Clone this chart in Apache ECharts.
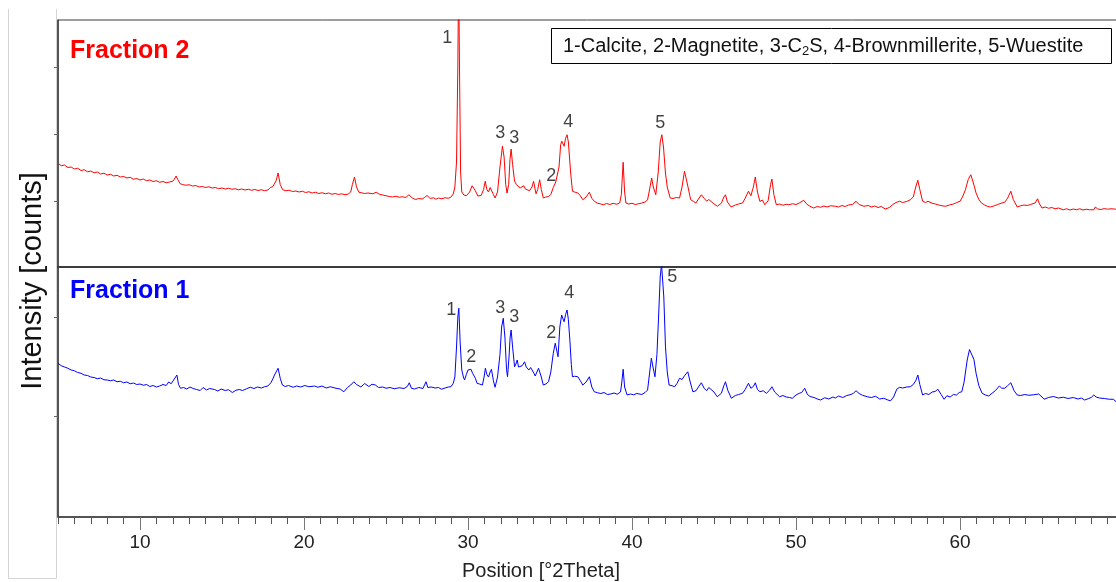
<!DOCTYPE html>
<html>
<head>
<meta charset="utf-8">
<title>XRD – Fraction 1 / Fraction 2</title>
<script src="https://cdn.jsdelivr.net/npm/echarts@6/dist/echarts.min.js"></script>
<style>
  html, body { margin: 0; padding: 0; background: #fff; }
  #chart { width: 1116px; height: 582px; }
</style>
</head>
<body>
<div id="chart"></div>
<script>
// x range (°2Theta) and labelled ticks
const thetaMin = 5
const thetaMax = 70
const majorTicks = [10, 20, 30, 40, 50, 60]

// Fraction 2 (red, upper panel): [2theta, counts]
const fraction2 = [
  [5.0, 415], [5.2, 405], [5.4, 408], [5.6, 398], [5.8, 400], [6.0, 392], [6.2, 395], [6.4, 386], [6.6, 389], [6.8, 381],
  [7.0, 384], [7.2, 377], [7.4, 380], [7.6, 372], [7.8, 375], [8.0, 368], [8.2, 371], [8.4, 364], [8.6, 367], [8.8, 360],
  [9.0, 362], [9.2, 356], [9.4, 359], [9.6, 351], [9.8, 354], [10.0, 348], [10.2, 352], [10.4, 345], [10.6, 348], [10.8, 342],
  [11.0, 345], [11.2, 339], [11.4, 342], [11.6, 337], [11.8, 340], [12.0, 343], [12.1, 352], [12.2, 364], [12.3, 350], [12.45, 333],
  [12.6, 330], [12.8, 327], [13.0, 329], [13.2, 324], [13.4, 326], [13.6, 320], [13.8, 322], [14.0, 318], [14.2, 321], [14.4, 316],
  [14.6, 318], [14.8, 313], [15.0, 316], [15.2, 312], [15.4, 315], [15.6, 311], [15.8, 313], [16.0, 309], [16.2, 312], [16.4, 308],
  [16.6, 311], [16.8, 307], [17.0, 310], [17.2, 306], [17.4, 309], [17.6, 305], [17.8, 308], [17.95, 318], [18.1, 322], [18.3, 345],
  [18.42, 376], [18.55, 330], [18.7, 309], [18.9, 305], [19.1, 307], [19.3, 302], [19.5, 304], [19.7, 300], [19.9, 303], [20.1, 298],
  [20.3, 301], [20.5, 296], [20.7, 299], [20.9, 294], [21.1, 297], [21.3, 293], [21.5, 296], [21.7, 291], [21.9, 294], [22.1, 290],
  [22.3, 293], [22.5, 289], [22.7, 292], [22.85, 300], [22.95, 330], [23.08, 360], [23.2, 320], [23.35, 299], [23.5, 297], [23.7, 294],
  [23.9, 296], [24.0, 300], [24.2, 293], [24.4, 299], [24.6, 291], [24.8, 288], [25.0, 285], [25.2, 282], [25.4, 280], [25.6, 283],
  [25.8, 279], [26.0, 281], [26.2, 278], [26.4, 289], [26.6, 276], [26.8, 270], [27.0, 274], [27.2, 272], [27.35, 278], [27.5, 286],
  [27.7, 274], [27.9, 277], [28.05, 271], [28.2, 276], [28.4, 273], [28.6, 277], [28.8, 275], [28.95, 279], [29.1, 292], [29.2, 320],
  [29.3, 420], [29.38, 800], [29.43, 1200], [29.48, 800], [29.55, 380], [29.62, 300], [29.75, 288], [29.9, 285], [30.1, 300], [30.25, 325],
  [30.34, 333], [30.45, 305], [30.6, 284], [30.8, 286], [30.95, 310], [31.05, 343], [31.15, 310], [31.25, 300], [31.35, 318], [31.43, 323],
  [31.55, 290], [31.65, 276], [31.8, 300], [31.95, 400], [32.1, 483], [32.2, 440], [32.3, 330], [32.38, 296], [32.48, 330], [32.56, 430],
  [32.63, 472], [32.72, 410], [32.84, 343], [32.95, 330], [33.06, 329], [33.18, 316], [33.3, 320], [33.4, 325], [33.5, 312], [33.6, 318],
  [33.75, 305], [33.9, 320], [34.0, 343], [34.08, 315], [34.15, 293], [34.25, 310], [34.37, 349], [34.47, 310], [34.59, 276], [34.75, 280],
  [34.9, 282], [35.05, 290], [35.2, 318], [35.35, 340], [35.45, 336], [35.55, 400], [35.65, 490], [35.72, 503], [35.86, 483], [35.95, 515],
  [36.04, 529], [36.12, 500], [36.26, 376], [36.37, 303], [36.5, 300], [36.7, 296], [36.85, 285], [37.0, 269], [37.2, 280], [37.4, 299],
  [37.55, 275], [37.7, 263], [37.9, 255], [38.1, 252], [38.25, 249], [38.45, 254], [38.65, 250], [38.85, 255], [39.05, 251], [39.25, 256],
  [39.35, 290], [39.46, 419], [39.55, 300], [39.63, 256], [39.8, 252], [40.0, 255], [40.2, 250], [40.4, 253], [40.6, 256], [40.8, 260],
  [40.95, 269], [41.1, 320], [41.2, 356], [41.3, 320], [41.45, 289], [41.6, 380], [41.72, 500], [41.82, 529], [41.92, 480], [42.04, 376],
  [42.15, 320], [42.33, 276], [42.5, 274], [42.7, 278], [42.9, 276], [43.05, 320], [43.2, 383], [43.35, 340], [43.58, 269], [43.75, 262],
  [43.9, 256], [44.05, 272], [44.23, 289], [44.4, 275], [44.55, 263], [44.68, 270], [44.8, 272], [44.95, 255], [45.2, 243], [45.45, 255],
  [45.6, 280], [45.7, 289], [45.82, 260], [46.04, 240], [46.3, 248], [46.5, 252], [46.74, 256], [46.9, 275], [47.1, 303], [47.25, 285],
  [47.4, 320], [47.52, 360], [47.65, 300], [47.8, 262], [47.95, 268], [48.1, 249], [48.3, 265], [48.45, 330], [48.53, 352], [48.65, 290],
  [48.8, 249], [49.0, 252], [49.2, 247], [49.4, 251], [49.56, 249], [49.8, 253], [50.0, 250], [50.2, 256], [50.47, 267], [50.65, 252],
  [50.85, 243], [51.08, 236], [51.3, 242], [51.5, 239], [51.7, 244], [51.9, 240], [52.1, 245], [52.4, 243], [52.6, 240], [52.8, 246],
  [53.0, 242], [53.2, 248], [53.45, 250], [53.66, 263], [53.85, 250], [54.14, 243], [54.4, 246], [54.6, 240], [54.8, 244], [55.0, 238],
  [55.2, 242], [55.45, 232], [55.7, 238], [55.9, 250], [56.1, 258], [56.32, 263], [56.5, 258], [56.75, 262], [56.97, 269], [57.15, 280],
  [57.3, 320], [57.43, 347], [57.55, 310], [57.72, 263], [57.9, 258], [58.05, 263], [58.3, 255], [58.5, 252], [58.7, 248], [58.9, 245],
  [59.13, 243], [59.35, 248], [59.6, 252], [59.8, 258], [60.0, 263], [60.15, 280], [60.33, 309], [60.5, 350], [60.66, 369], [60.8, 340],
  [60.98, 296], [61.15, 270], [61.31, 256], [61.5, 248], [61.7, 242], [61.86, 240], [62.1, 245], [62.3, 250], [62.5, 255], [62.73, 259],
  [62.9, 275], [63.1, 303], [63.25, 270], [63.49, 240], [63.7, 245], [63.9, 248], [64.1, 246], [64.3, 250], [64.58, 256], [64.73, 273],
  [64.85, 252], [65.0, 236], [65.2, 240], [65.4, 235], [65.6, 238], [65.8, 233], [66.0, 236], [66.3, 229], [66.5, 233], [66.7, 228],
  [66.9, 232], [67.1, 229], [67.3, 233], [67.5, 228], [67.7, 231], [67.9, 229], [68.16, 229], [68.25, 240], [68.4, 232], [68.6, 230],
  [68.8, 234], [69.0, 231], [69.2, 233], [69.4, 232], [69.6, 230], [69.8, 231], [70.0, 229]
]

// Fraction 1 (blue, lower panel): [2theta, counts]
const fraction1 = [
  [5.0, 615], [5.2, 605], [5.4, 600], [5.6, 595], [5.8, 588], [6.0, 585], [6.2, 578], [6.4, 575], [6.6, 568], [6.8, 566],
  [7.0, 560], [7.2, 558], [7.4, 553], [7.6, 556], [7.8, 549], [8.0, 548], [8.2, 545], [8.4, 548], [8.6, 541], [8.8, 543],
  [9.0, 537], [9.2, 540], [9.4, 533], [9.6, 536], [9.8, 530], [10.0, 532], [10.2, 527], [10.4, 530], [10.6, 522], [10.8, 526],
  [11.0, 520], [11.2, 524], [11.4, 530], [11.6, 526], [11.75, 540], [11.9, 533], [12.05, 548], [12.15, 556], [12.25, 568], [12.35, 530],
  [12.47, 515], [12.65, 518], [12.85, 512], [13.05, 520], [13.24, 514], [13.45, 510], [13.67, 506], [13.85, 518], [14.05, 508], [14.25, 514],
  [14.54, 510], [14.75, 504], [14.95, 512], [15.2, 506], [15.4, 509], [15.63, 498], [15.85, 507], [16.05, 510], [16.25, 506], [16.5, 513],
  [16.72, 519], [16.95, 514], [17.15, 520], [17.4, 516], [17.59, 521], [17.8, 524], [17.98, 537], [18.1, 552], [18.2, 568], [18.32, 560],
  [18.42, 595], [18.55, 555], [18.68, 528], [18.85, 522], [19.05, 526], [19.34, 519], [19.55, 524], [19.8, 520], [20.05, 526], [20.3, 521],
  [20.64, 524], [20.85, 519], [21.1, 524], [21.35, 516], [21.6, 521], [21.95, 515], [22.2, 512], [22.43, 501], [22.65, 518], [22.85, 528],
  [23.04, 541], [23.2, 530], [23.47, 520], [23.7, 534], [23.95, 522], [24.15, 531], [24.35, 528], [24.55, 518], [24.8, 520], [25.0, 515],
  [25.25, 518], [25.5, 513], [25.8, 517], [26.1, 514], [26.3, 522], [26.42, 537], [26.55, 515], [26.74, 512], [27.0, 518], [27.25, 514],
  [27.44, 541], [27.55, 518], [27.75, 520], [28.0, 516], [28.2, 518], [28.38, 511], [28.6, 516], [28.8, 520], [28.96, 521], [29.1, 535],
  [29.2, 560], [29.3, 680], [29.38, 800], [29.44, 835], [29.52, 700], [29.62, 588], [29.72, 560], [29.79, 548], [29.9, 570], [30.0, 588],
  [30.1, 582], [30.18, 591], [30.28, 575], [30.36, 581], [30.45, 555], [30.55, 535], [30.7, 532], [30.88, 528], [30.98, 560], [31.06, 595],
  [31.15, 570], [31.25, 560], [31.35, 580], [31.43, 591], [31.55, 545], [31.65, 519], [31.8, 560], [31.95, 650], [32.05, 760], [32.15, 795],
  [32.25, 720], [32.35, 590], [32.41, 561], [32.5, 640], [32.57, 720], [32.63, 748], [32.72, 680], [32.84, 601], [32.92, 612], [33.0, 628],
  [33.08, 600], [33.17, 595], [33.3, 605], [33.45, 621], [33.55, 600], [33.71, 588], [33.82, 598], [33.93, 593], [34.02, 575], [34.1, 564],
  [34.2, 580], [34.3, 595], [34.37, 601], [34.47, 560], [34.59, 528], [34.75, 532], [34.91, 541], [35.05, 580], [35.2, 655], [35.32, 695],
  [35.42, 688], [35.49, 641], [35.6, 760], [35.71, 808], [35.86, 781], [35.95, 810], [36.04, 828], [36.12, 790], [36.21, 708], [36.3, 610],
  [36.37, 561], [36.5, 563], [36.7, 561], [36.85, 545], [37.0, 528], [37.2, 540], [37.4, 561], [37.55, 520], [37.7, 501], [37.9, 497],
  [38.1, 494], [38.3, 498], [38.5, 490], [38.7, 492], [38.9, 496], [39.1, 491], [39.3, 500], [39.38, 540], [39.46, 591], [39.55, 520],
  [39.7, 488], [39.9, 492], [40.1, 489], [40.3, 494], [40.6, 490], [40.8, 498], [40.95, 508], [41.08, 580], [41.18, 635], [41.28, 600],
  [41.4, 561], [41.52, 650], [41.62, 800], [41.72, 960], [41.8, 1010], [41.86, 1010], [41.94, 880], [42.04, 681], [42.15, 580], [42.26, 528],
  [42.45, 525], [42.6, 521], [42.75, 535], [42.9, 555], [43.05, 550], [43.2, 565], [43.4, 581], [43.55, 540], [43.71, 501], [43.9, 505],
  [44.05, 520], [44.23, 537], [44.4, 515], [44.55, 505], [44.68, 518], [44.8, 524], [45.0, 500], [45.2, 481], [45.45, 495], [45.6, 525],
  [45.7, 541], [45.85, 505], [46.06, 475], [46.3, 486], [46.5, 490], [46.74, 495], [46.9, 510], [47.1, 535], [47.25, 515], [47.4, 522],
  [47.52, 537], [47.65, 510], [47.8, 501], [48.0, 505], [48.2, 495], [48.4, 508], [48.53, 521], [48.7, 500], [49.0, 481], [49.2, 486],
  [49.4, 480], [49.6, 478], [49.78, 475], [50.0, 488], [50.2, 495], [50.35, 498], [50.53, 515], [50.7, 490], [50.86, 482], [51.1, 478],
  [51.3, 472], [51.5, 468], [51.75, 477], [52.0, 472], [52.25, 480], [52.4, 476], [52.6, 484], [52.85, 478], [53.1, 486], [53.35, 490],
  [53.5, 495], [53.66, 505], [53.85, 494], [54.05, 487], [54.35, 481], [54.6, 478], [54.85, 483], [55.1, 472], [55.35, 475], [55.6, 468],
  [55.77, 465], [55.95, 480], [56.15, 512], [56.32, 519], [56.5, 516], [56.75, 520], [56.97, 521], [57.15, 530], [57.3, 545], [57.43, 568],
  [57.55, 530], [57.72, 488], [57.9, 494], [58.1, 490], [58.3, 500], [58.48, 502], [58.65, 511], [58.85, 490], [59.03, 471], [59.2, 485],
  [59.4, 480], [59.6, 490], [59.79, 488], [59.95, 498], [60.11, 501], [60.25, 540], [60.44, 628], [60.58, 670], [60.7, 675], [60.85, 630],
  [60.98, 575], [61.15, 525], [61.35, 495], [61.55, 488], [61.75, 484], [61.95, 495], [62.15, 505], [62.4, 524], [62.55, 515], [62.73, 515],
  [62.9, 525], [63.1, 537], [63.3, 505], [63.49, 488], [63.7, 486], [63.95, 490], [64.2, 487], [64.5, 489], [64.8, 492], [65.0, 480],
  [65.13, 471], [65.4, 478], [65.7, 482], [66.0, 476], [66.3, 479], [66.6, 474], [66.9, 478], [67.2, 472], [67.4, 476], [67.6, 468],
  [67.85, 474], [68.0, 478], [68.16, 488], [68.3, 480], [68.5, 476], [68.8, 474], [69.1, 471], [69.35, 471], [69.52, 461], [69.8, 468],
  [70.0, 465]
]

// phase labels: [2theta, counts, phase number]
const peaks2 = [[28.73, 916, '1'], [31.97, 536, '3'], [32.82, 516, '3'], [35.08, 364, '2'], [36.12, 580, '4'], [41.73, 576, '5']]
const peaks1 = [[28.98, 828, '1'], [30.2, 640, '2'], [31.97, 836, '3'], [32.82, 800, '3'], [35.08, 736, '2'], [36.18, 896, '4'], [42.46, 960, '5']]

const yMax2 = 988
const yMax1 = 1000
const yTicks2 = [264, 532, 800]
const yTicks1 = [404, 800]

const font = '"Liberation Sans", Arial, sans-serif'
const axisColor = '#3c3c3c'

const chart = echarts.init(document.getElementById('chart'), null, { renderer: 'canvas' })

function labelSeries (data, xi, yi) {
  return {
    type: 'scatter',
    xAxisIndex: xi,
    yAxisIndex: yi,
    data: data,
    symbolSize: 1,
    itemStyle: { color: 'rgba(0,0,0,0)' },
    silent: true,
    label: {
      show: true,
      position: 'inside',
      formatter: p => p.data[2],
      color: '#111',
      fontSize: 18,
      fontFamily: font
    },
    z: 5
  }
}

// plot runs a little past the right edge of the page (x = 70 is off-canvas)
const plotWidth = 1066

const option = {
  animation: false,
  backgroundColor: '#fff',
  grid: [
    { left: 58, top: 20, height: 247, width: plotWidth, outerBoundsMode: 'none', show: true, borderColor: axisColor, borderWidth: 1 },
    { left: 58, top: 267, height: 250, width: plotWidth, outerBoundsMode: 'none', show: true, borderColor: axisColor, borderWidth: 1 }
  ],
  xAxis: [
    {
      gridIndex: 0, type: 'value', min: thetaMin, max: thetaMax, position: 'top',
      axisLine: { show: true, lineStyle: { color: axisColor, width: 2 } },
      axisTick: { show: false }, axisLabel: { show: false }, splitLine: { show: false }
    },
    {
      // minor ticks every degree
      gridIndex: 1, type: 'value', min: thetaMin, max: thetaMax, interval: 1,
      axisLine: { show: true, lineStyle: { color: axisColor, width: 1.5 } },
      axisTick: { show: true, length: 7, lineStyle: { color: '#555' } },
      axisLabel: { show: false },
      splitLine: { show: false }
    },
    {
      // major ticks + labels
      gridIndex: 1, type: 'value', min: thetaMin, max: thetaMax, position: 'bottom',
      axisLine: { show: false },
      axisTick: { show: true, length: 13, customValues: majorTicks, lineStyle: { color: '#777' } },
      axisLabel: { show: true, customValues: majorTicks, margin: 16, fontSize: 19, color: '#222', fontFamily: font },
      splitLine: { show: false }
    }
  ],
  yAxis: [
    {
      gridIndex: 0, type: 'value', min: 0, max: yMax2,
      axisLine: { show: true, lineStyle: { color: axisColor, width: 1.5 } },
      axisTick: { show: true, length: 4, customValues: yTicks2, lineStyle: { color: '#666' } },
      axisLabel: { show: false }, splitLine: { show: false }
    },
    {
      gridIndex: 1, type: 'value', min: 0, max: yMax1,
      axisLine: { show: true, lineStyle: { color: axisColor, width: 1.5 } },
      axisTick: { show: true, length: 4, customValues: yTicks1, lineStyle: { color: '#666' } },
      axisLabel: { show: false }, splitLine: { show: false }
    }
  ],
  series: [
    {
      name: 'Fraction 2', type: 'line', xAxisIndex: 0, yAxisIndex: 0,
      data: fraction2, showSymbol: false, clip: true,
      lineStyle: { color: '#ff0000', width: 1 }, itemStyle: { color: '#ff0000' }
    },
    {
      name: 'Fraction 1', type: 'line', xAxisIndex: 1, yAxisIndex: 1,
      data: fraction1, showSymbol: false, clip: true,
      lineStyle: { color: '#0000ff', width: 1 }, itemStyle: { color: '#0000ff' }
    },
    labelSeries(peaks2, 0, 0),
    labelSeries(peaks1, 1, 1)
  ],
  graphic: [
    // light frame around the y title
    {
      type: 'polyline', silent: true,
      shape: { points: [[8.5, 9], [8.5, 578.5], [56.5, 578.5], [56.5, 9]] },
      style: { stroke: '#d4d4d4', fill: null, lineWidth: 1 }
    },
    {
      type: 'text', x: 33, y: 281, rotation: Math.PI / 2, silent: true,
      style: { text: 'Intensity [counts]', align: 'center', verticalAlign: 'middle', fontSize: 29, fontFamily: font, fill: '#111' }
    },
    {
      type: 'text', x: 541, y: 571, silent: true,
      style: { text: 'Position [°2Theta]', align: 'center', verticalAlign: 'middle', fontSize: 20, fontFamily: font, fill: '#222' }
    },
    {
      type: 'text', x: 70, y: 51, silent: true,
      style: { text: 'Fraction 2', verticalAlign: 'middle', fontSize: 25, fontWeight: 'bold', fontFamily: font, fill: '#ff0000' }
    },
    {
      type: 'text', x: 70, y: 291, silent: true,
      style: { text: 'Fraction 1', verticalAlign: 'middle', fontSize: 25, fontWeight: 'bold', fontFamily: font, fill: '#0000ff' }
    },
    {
      type: 'rect', silent: true, z: 10,
      shape: { x: 551.5, y: 28.5, width: 560, height: 35 },
      style: { fill: '#fff', stroke: '#000', lineWidth: 1 }
    },
    {
      type: 'text', x: 563, y: 46, silent: true, z: 11,
      style: {
        text: '1-Calcite, 2-Magnetite, 3-C{sub|2}S, 4-Brownmillerite, 5-Wuestite',
        verticalAlign: 'middle', fontSize: 20, fontFamily: font, fill: '#111',
        rich: { sub: { fontSize: 13, fontFamily: font, fill: '#111', padding: [11, 0, 0, 0] } }
      }
    }
  ]
}

chart.setOption(option)
</script>
</body>
</html>
